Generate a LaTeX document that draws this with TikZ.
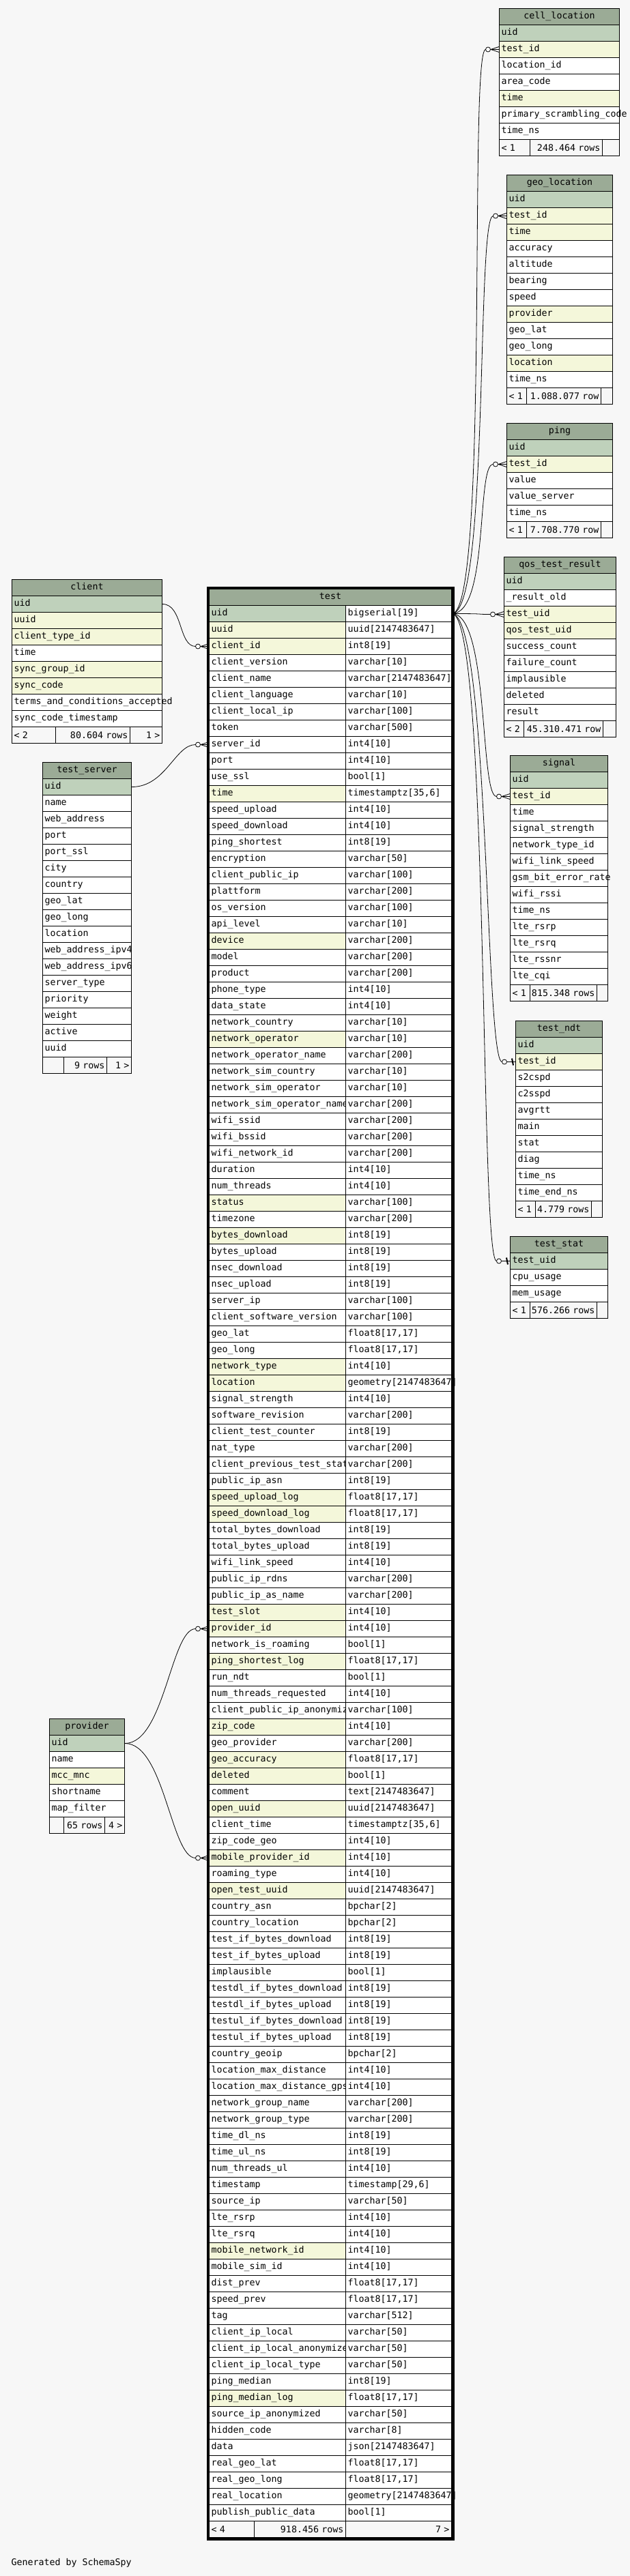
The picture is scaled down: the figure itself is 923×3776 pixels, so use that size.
\documentclass[tikz,border=0pt]{standalone}
\usepackage{fontspec}
\newfontfamily\mono{DejaVu Sans Mono}
\usetikzlibrary{fit}
\definecolor{bgc}{HTML}{F7F7F7}
\definecolor{headc}{HTML}{9BAB96}
\definecolor{pkc}{HTML}{BFD1BB}
\definecolor{ixc}{HTML}{F4F7DA}
\newcommand{\tabfont}{\mono\fontsize{13.3}{16}\selectfont}
\newcommand{\rcount}[1]{\makebox[\linewidth][r]{#1}}

\begin{document}
\catcode`\_=12
\begin{tikzpicture}[x=1pt, y=-1pt,
    cell/.style  = {draw, line width=1pt, anchor=north west, minimum height=24pt, inner xsep=3pt, inner ysep=0pt, font=\tabfont},
    head/.style  = {cell, fill=headc, align=center},
    row/.style   = {cell, align=left},
    foot/.style  = {cell, fill=bgc, align=left},
    footr/.style = {foot, align=right},
    rel/.style   = {draw, line width=.8pt}]

    \fill[bgc] (0,0) rectangle (923,3776);
    \useasboundingbox (0,0) rectangle (923,3776);

    % tables on the right, children of test
    \node[head, text width=170pt] (cl) at (731,12) {\strut cell_location};
    \foreach \c/\k [count=\i] in {uid/pkc, test_id/ixc, location_id/white, area_code/white, time/ixc,
        primary_scrambling_code/white, time_ns/white}
    \node[row, fill=\k, text width=170pt] (cl-\c) at (731,12+24*\i) {\strut\mbox{\c}};
    \node[foot, text width=39pt] (cl-f1) at (731,204) {< 1};
    \node[footr, text width=100pt] (cl-f2) at (776,204) {\rcount{248.464 rows}};
    \node[foot, text width=19pt] (cl-f3) at (882,204) {};

    \node[head, text width=149pt] (geo) at (742,256) {\strut geo_location};
    \foreach \c/\k [count=\i] in {uid/pkc, test_id/ixc, time/ixc, accuracy/white, altitude/white, bearing/white,
        speed/white, provider/ixc, geo_lat/white, geo_long/white, location/ixc, time_ns/white}
    \node[row, fill=\k, text width=149pt] (geo-\c) at (742,256+24*\i) {\strut\mbox{\c}};
    \node[foot, text width=23pt] (geo-f1) at (742,568) {< 1};
    \node[footr, text width=103pt] (geo-f2) at (771,568) {\rcount{1.088.077 row}};
    \node[foot, text width=11pt] (geo-f3) at (880,568) {};

    \node[head, text width=149pt] (ping) at (742,620) {\strut ping};
    \foreach \c/\k [count=\i] in {uid/pkc, test_id/ixc, value/white, value_server/white, time_ns/white}
    \node[row, fill=\k, text width=149pt] (ping-\c) at (742,620+24*\i) {\strut\mbox{\c}};
    \node[foot, text width=23pt] (ping-f1) at (742,764) {< 1};
    \node[footr, text width=103pt] (ping-f2) at (771,764) {\rcount{7.708.770 row}};
    \node[foot, text width=11pt] (ping-f3) at (880,764) {};

    \node[head, text width=158pt] (qos) at (738,816) {\strut qos_test_result};
    \foreach \c/\k [count=\i] in {uid/pkc, _result_old/white, test_uid/ixc, qos_test_uid/ixc, success_count/white,
        failure_count/white, implausible/white, deleted/white, result/white}
    \node[row, fill=\k, text width=158pt] (qos-\c) at (738,816+24*\i) {\strut\mbox{\c}};
    \node[foot, text width=23pt] (qos-f1) at (738,1056) {< 2};
    \node[footr, text width=110pt] (qos-f2) at (767,1056) {\rcount{45.310.471 row}};
    \node[foot, text width=13pt] (qos-f3) at (883,1056) {};

    \node[head, text width=137pt] (sig) at (747,1107) {\strut signal};
    \foreach \c/\k [count=\i] in {uid/pkc, test_id/ixc, time/white, signal_strength/white, network_type_id/white,
        wifi_link_speed/white, gsm_bit_error_rate/white, wifi_rssi/white, time_ns/white, lte_rsrp/white,
        lte_rsrq/white, lte_rssnr/white, lte_cqi/white}
    \node[row, fill=\k, text width=137pt] (sig-\c) at (747,1107+24*\i) {\strut\mbox{\c}};
    \node[foot, text width=23pt] (sig-f1) at (747,1443) {< 1};
    \node[footr, text width=92pt] (sig-f2) at (776,1443) {\rcount{815.348 rows}};
    \node[foot, text width=10pt] (sig-f3) at (874,1443) {};

    \node[head, text width=121pt] (ndt) at (755,1496) {\strut test_ndt};
    \foreach \c/\k [count=\i] in {uid/pkc, test_id/ixc, s2cspd/white, c2sspd/white, avgrtt/white, main/white,
        stat/white, diag/white, time_ns/white, time_end_ns/white}
    \node[row, fill=\k, text width=121pt] (ndt-\c) at (755,1496+24*\i) {\strut\mbox{\c}};
    \node[foot, text width=23pt] (ndt-f1) at (755,1760) {< 1};
    \node[footr, text width=76pt] (ndt-f2) at (784,1760) {\rcount{4.779 rows}};
    \node[foot, text width=10pt] (ndt-f3) at (866,1760) {};

    \node[head, text width=137pt] (stat) at (747,1812) {\strut test_stat};
    \foreach \c/\k [count=\i] in {test_uid/pkc, cpu_usage/white, mem_usage/white}
    \node[row, fill=\k, text width=137pt] (stat-\c) at (747,1812+24*\i) {\strut\mbox{\c}};
    \node[foot, text width=23pt] (stat-f1) at (747,1908) {< 1};
    \node[footr, text width=92pt] (stat-f2) at (776,1908) {\rcount{576.266 rows}};
    \node[foot, text width=10pt] (stat-f3) at (874,1908) {};

    % tables on the left, parents of test
    \node[head, text width=214pt] (client) at (17,849) {\strut client};
    \foreach \c/\k [count=\i] in {uid/pkc, uuid/ixc, client_type_id/ixc, time/white, sync_group_id/ixc,
        sync_code/ixc, terms_and_conditions_accepted/white, sync_code_timestamp/white}
    \node[row, fill=\k, text width=214pt] (client-\c) at (17,849+24*\i) {\strut\mbox{\c}};
    \node[foot, text width=58pt] (client-f1) at (17,1065) {< 2};
    \node[footr, text width=103pt] (client-f2) at (81,1065) {\rcount{80.604 rows}};
    \node[footr, text width=41pt] (client-f3) at (190,1065) {\rcount{1 >}};

    \node[head, text width=124pt] (ts) at (62,1117) {\strut test_server};
    \foreach \c/\k [count=\i] in {uid/pkc, name/white, web_address/white, port/white, port_ssl/white, city/white,
        country/white, geo_lat/white, geo_long/white, location/white, web_address_ipv4/white,
        web_address_ipv6/white, server_type/white, priority/white, weight/white, active/white, uuid/white}
    \node[row, fill=\k, text width=124pt] (ts-\c) at (62,1117+24*\i) {\strut\mbox{\c}};
    \node[foot, text width=25pt] (ts-f1) at (62,1549) {};
    \node[footr, text width=57pt] (ts-f2) at (93,1549) {\rcount{9 rows}};
    \node[footr, text width=30pt] (ts-f3) at (156,1549) {\rcount{1 >}};

    \node[head, text width=104pt] (prov) at (72,2519) {\strut provider};
    \foreach \c/\k [count=\i] in {uid/pkc, name/white, mcc_mnc/ixc, shortname/white, map_filter/white}
    \node[row, fill=\k, text width=104pt] (prov-\c) at (72,2519+24*\i) {\strut\mbox{\c}};
    \node[foot, text width=15pt] (prov-f1) at (72,2663) {};
    \node[footr, text width=54pt] (prov-f2) at (93,2663) {\rcount{65 rows}};
    \node[footr, text width=23pt] (prov-f3) at (153,2663) {\rcount{4 >}};

    % the test table, name and type columns
    \node[head, text width=349pt] (test) at (306,863) {\strut test};
    \foreach \c/\t/\k [count=\i] in {
        uid/bigserial[19]/pkc, uuid/uuid[2147483647]/ixc, client_id/int8[19]/ixc,
        client_version/varchar[10]/white, client_name/varchar[2147483647]/white,
        client_language/varchar[10]/white, client_local_ip/varchar[100]/white, token/varchar[500]/white,
        server_id/int4[10]/white, port/int4[10]/white, use_ssl/bool[1]/white,
        time/{timestamptz[35,6]}/ixc, speed_upload/int4[10]/white, speed_download/int4[10]/white,
        ping_shortest/int8[19]/white, encryption/varchar[50]/white, client_public_ip/varchar[100]/white,
        plattform/varchar[200]/white, os_version/varchar[100]/white, api_level/varchar[10]/white,
        device/varchar[200]/ixc, model/varchar[200]/white, product/varchar[200]/white,
        phone_type/int4[10]/white, data_state/int4[10]/white, network_country/varchar[10]/white,
        network_operator/varchar[10]/ixc, network_operator_name/varchar[200]/white,
        network_sim_country/varchar[10]/white, network_sim_operator/varchar[10]/white,
        network_sim_operator_name/varchar[200]/white, wifi_ssid/varchar[200]/white,
        wifi_bssid/varchar[200]/white, wifi_network_id/varchar[200]/white, duration/int4[10]/white,
        num_threads/int4[10]/white, status/varchar[100]/ixc, timezone/varchar[200]/white,
        bytes_download/int8[19]/ixc, bytes_upload/int8[19]/white, nsec_download/int8[19]/white,
        nsec_upload/int8[19]/white, server_ip/varchar[100]/white, client_software_version/varchar[100]/white,
        geo_lat/{float8[17,17]}/white, geo_long/{float8[17,17]}/white, network_type/int4[10]/ixc,
        location/geometry[2147483647]/ixc, signal_strength/int4[10]/white,
        software_revision/varchar[200]/white, client_test_counter/int8[19]/white,
        nat_type/varchar[200]/white, client_previous_test_status/varchar[200]/white,
        public_ip_asn/int8[19]/white, speed_upload_log/{float8[17,17]}/ixc,
        speed_download_log/{float8[17,17]}/ixc, total_bytes_download/int8[19]/white,
        total_bytes_upload/int8[19]/white, wifi_link_speed/int4[10]/white,
        public_ip_rdns/varchar[200]/white, public_ip_as_name/varchar[200]/white,
        test_slot/int4[10]/ixc, provider_id/int4[10]/ixc, network_is_roaming/bool[1]/white,
        ping_shortest_log/{float8[17,17]}/ixc, run_ndt/bool[1]/white,
        num_threads_requested/int4[10]/white, client_public_ip_anonymized/varchar[100]/white,
        zip_code/int4[10]/ixc, geo_provider/varchar[200]/white, geo_accuracy/{float8[17,17]}/ixc,
        deleted/bool[1]/ixc, comment/text[2147483647]/white, open_uuid/uuid[2147483647]/ixc,
        client_time/{timestamptz[35,6]}/white, zip_code_geo/int4[10]/white,
        mobile_provider_id/int4[10]/ixc, roaming_type/int4[10]/white,
        open_test_uuid/uuid[2147483647]/ixc, country_asn/bpchar[2]/white,
        country_location/bpchar[2]/white, test_if_bytes_download/int8[19]/white,
        test_if_bytes_upload/int8[19]/white, implausible/bool[1]/white,
        testdl_if_bytes_download/int8[19]/white, testdl_if_bytes_upload/int8[19]/white,
        testul_if_bytes_download/int8[19]/white, testul_if_bytes_upload/int8[19]/white,
        country_geoip/bpchar[2]/white, location_max_distance/int4[10]/white,
        location_max_distance_gps/int4[10]/white, network_group_name/varchar[200]/white,
        network_group_type/varchar[200]/white, time_dl_ns/int8[19]/white, time_ul_ns/int8[19]/white,
        num_threads_ul/int4[10]/white, timestamp/{timestamp[29,6]}/white, source_ip/varchar[50]/white,
        lte_rsrp/int4[10]/white, lte_rsrq/int4[10]/white, mobile_network_id/int4[10]/ixc,
        mobile_sim_id/int4[10]/white, dist_prev/{float8[17,17]}/white, speed_prev/{float8[17,17]}/white,
        tag/varchar[512]/white, client_ip_local/varchar[50]/white,
        client_ip_local_anonymized/varchar[50]/white, client_ip_local_type/varchar[50]/white,
        ping_median/int8[19]/white, ping_median_log/{float8[17,17]}/ixc,
        source_ip_anonymized/varchar[50]/white, hidden_code/varchar[8]/white,
        data/json[2147483647]/white, real_geo_lat/{float8[17,17]}/white,
        real_geo_long/{float8[17,17]}/white, real_location/geometry[2147483647]/white,
        publish_public_data/bool[1]/white} {
        \node[row, fill=\k, text width=194pt] (test-\c) at (306,863+24*\i) {\strut\mbox{\c}};
        \node[row, fill=white, text width=149pt] (test-\c-t) at (506,863+24*\i) {\strut\mbox{\t}};
    }
    \node[foot, text width=60pt] (test-f1) at (306,3695) {< 4};
    \node[footr, text width=128pt] (test-f2) at (372,3695) {\rcount{918.456 rows}};
    \node[footr, text width=149pt] (test-f3) at (506,3695) {\rcount{7 >}};
    \node[draw, line width=3.5pt, inner sep=1.75pt, fit=(test)(test-f3)] (test-frame) {};

    % relations: test.uid to its children
    \foreach \tbl in {cl-test_id, geo-test_id, ping-test_id, qos-test_uid, sig-test_id, ndt-test_id, stat-test_uid}
    \draw[rel] (test-uid-t.east) .. controls +(55,0) and +(-25,0) .. ([xshift=-19.5pt]\tbl.west);

    % relations: parents to test
    \draw[rel] (client-uid.east) .. controls +(30,0) and +(-25,0) .. ([xshift=-19.5pt]test-client_id.west);
    \draw[rel] (ts-uid.east) .. controls +(50,0) and +(-30,0) .. ([xshift=-19.5pt]test-server_id.west);
    \draw[rel] (prov-uid.east) .. controls +(58,0) and +(-36,0) .. ([xshift=-19.5pt]test-provider_id.west);
    \draw[rel] (prov-uid.east) .. controls +(58,0) and +(-36,0) .. ([xshift=-19.5pt]test-mobile_provider_id.west);

    % zero or many ends
    \foreach \tbl in {cl-test_id, geo-test_id, ping-test_id, qos-test_uid, sig-test_id,
        test-client_id, test-server_id, test-provider_id, test-mobile_provider_id} {
        \draw[rel] ([xshift=-12pt]\tbl.west) -- ([yshift=4pt]\tbl.west)
            ([xshift=-12pt]\tbl.west) -- ([yshift=-4pt]\tbl.west)
            ([xshift=-12pt]\tbl.west) -- (\tbl.west);
        \draw[rel, fill=white] ([xshift=-16pt]\tbl.west) circle[radius=3.5pt];
    }
    % zero or one ends
    \foreach \tbl in {ndt-test_id, stat-test_uid} {
        \draw[rel] ([xshift=-12pt]\tbl.west) -- (\tbl.west);
        \draw[line width=2pt] ([shift={(-5pt,5pt)}]\tbl.west) -- ([shift={(-3pt,-5pt)}]\tbl.west);
        \draw[rel, fill=white] ([xshift=-16pt]\tbl.west) circle[radius=3.5pt];
    }

    \node[anchor=west, font=\tabfont] (gen) at (13,3757) {Generated by SchemaSpy};
\end{tikzpicture}
\end{document}
